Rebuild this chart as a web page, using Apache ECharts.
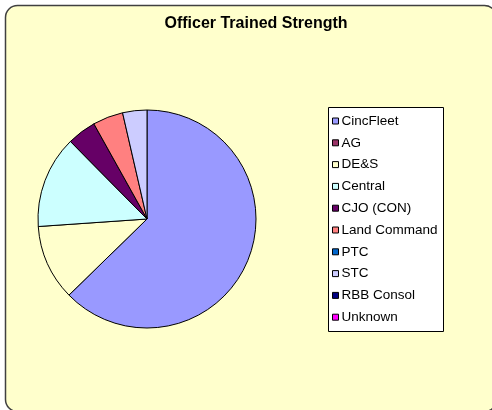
<!DOCTYPE html>
<html>
<head>
<meta charset="utf-8">
<script src="https://cdn.jsdelivr.net/npm/echarts@6/dist/echarts.min.js"></script>
<style>
html,body{margin:0;padding:0;background:#ffffff;}
#chart{width:492px;height:410px;}
</style>
</head>
<body>
<div id="chart"></div>
<script>
const categories = ['CincFleet','AG','DE&S','Central','CJO (CON)','Land Command','PTC','STC','RBB Consol','Unknown'];
const values = [627, 0, 112, 137, 43, 45, 0, 36, 0, 0];
const colors = ['#9999FF','#993366','#FFFFCC','#CCFFFF','#660066','#FF8080','#0066CC','#CCCCFF','#000080','#FF00FF'];
const title = 'Officer Trained Strength';

const chart = echarts.init(document.getElementById('chart'), null, {renderer:'canvas'});
const data = categories.map((c,i)=>({
  name:c, value:values[i],
  itemStyle:{color:colors[i], borderColor:'#000', borderWidth: values[i] > 0 ? 1 : 0}
}));
chart.setOption({
  animation:false,
  backgroundColor:'#ffffff',
  color: colors,
  graphic:[
    {type:'rect', z:-10, shape:{x:5.5,y:5.5,width:491,height:406,r:12},
     style:{fill:'#FFFFCC', stroke:'#404040', lineWidth:1.5}},
    {type:'rect', z:-5, shape:{x:328.5,y:107.5,width:115,height:224},
     style:{fill:'#ffffff', stroke:'#000', lineWidth:1}}
  ],
  title:{
    text:title, left:251, top:11, textAlign:'center',
    textStyle:{fontFamily:'Liberation Sans, Arial, sans-serif', fontSize:16, fontWeight:'bold', color:'#000'}
  },
  legend:{
    orient:'vertical', left:332, top:114,
    icon:'rect', itemWidth:6, itemHeight:6, itemGap:7.8,
    padding:0,
    itemStyle:{borderColor:'#000', borderWidth:1},
    textStyle:{fontFamily:'Liberation Sans, Arial, sans-serif', fontSize:13.5, color:'#000', lineHeight:14, padding:[0,0,0,-2]},
    data: categories
  },
  series:[{
    type:'pie', center:[147,219], radius:109, startAngle:90, clockwise:true,
    label:{show:false}, labelLine:{show:false},
    emphasis:{disabled:true},
    showEmptyCircle:false,
    avoidLabelOverlap:false,
    data:data
  }]
});
</script>
</body>
</html>
